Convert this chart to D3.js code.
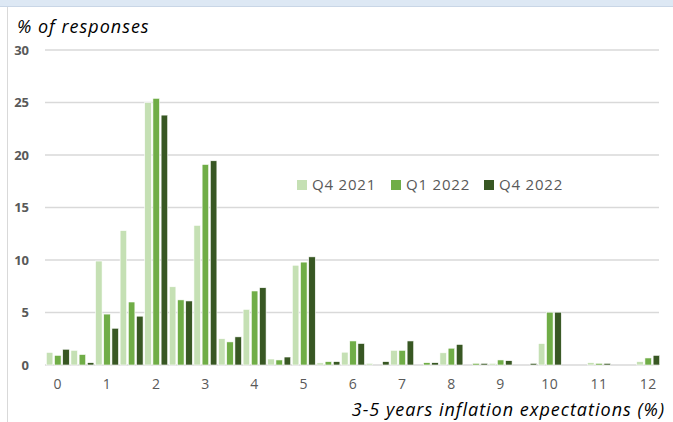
<!DOCTYPE html>
<html>
<head>
<meta charset="utf-8">
<script src="https://cdn.jsdelivr.net/npm/d3@7"></script>
<style>
  body { margin: 0; background: #fff; }
  svg { display: block; font-family: "Open Sans", sans-serif; }
</style>
</head>
<body>
<div id="chart"></div>
<script>
const width = 673;
const height = 422;

// inflation expectation bins (%), half-point steps
const bins = ["0","0.5","1","1.5","2","2.5","3","3.5","4","4.5","5","5.5","6","6.5","7","7.5","8","8.5","9","9.5","10","10.5","11","11.5","12"];
const seriesNames = ["Q4 2021", "Q1 2022", "Q4 2022"];
const q42021 = [1.2, 1.4, 9.9, 12.8, 25.0, 7.45, 13.3, 2.5, 5.3, 0.57, 9.5, 0.2, 1.22, 0.16, 1.4, 0, 1.16, 0, 0.16, 0, 2.04, 0, 0.22, 0, 0.32];
const q12022 = [0.92, 1.0, 4.85, 6.0, 25.4, 6.2, 19.1, 2.2, 7.05, 0.48, 9.8, 0.32, 2.29, 0, 1.4, 0.22, 1.6, 0.16, 0.48, 0, 5.03, 0, 0.16, 0, 0.67];
const q42022 = [1.5, 0.22, 3.5, 4.65, 23.8, 6.1, 19.45, 2.68, 7.36, 0.76, 10.3, 0.32, 2.05, 0.32, 2.29, 0.22, 1.96, 0.16, 0.41, 0.16, 5.03, 0, 0.16, 0, 0.92];
const yTicks = [0, 5, 10, 15, 20, 25, 30];
const xTickLabels = ["0","1","2","3","4","5","6","7","8","9","10","11","12"];
const colors = ["#c5e0b4", "#70ad47", "#385723"];

const series = [q42021, q12022, q42022];

const svg = d3.select("#chart").append("svg")
    .attr("width", width)
    .attr("height", height);

// frame: light blue strip on top, thin border on the left
svg.append("rect")
    .attr("x", 0).attr("y", 0)
    .attr("width", width).attr("height", 6)
    .attr("fill", "#dde8f4");
svg.append("line")
    .attr("x1", 0).attr("x2", width)
    .attr("y1", 6.5).attr("y2", 6.5)
    .attr("stroke", "#c9d6e6");
svg.append("line")
    .attr("x1", 7.5).attr("x2", 7.5)
    .attr("y1", 7).attr("y2", height)
    .attr("stroke", "#d9d9d9");

const x = d3.scaleBand()
    .domain(bins)
    .range([45.5, 660.5])
    .padding(0);

const xInner = d3.scaleBand()
    .domain(seriesNames)
    .range([0, x.bandwidth()])
    .paddingInner(0.2)
    .paddingOuter(0.1);

const y = d3.scaleLinear()
    .domain([0, 30])
    .range([365, 50]);

// gridlines + y labels
svg.append("g")
    .selectAll("line")
    .data(yTicks)
    .join("line")
    .attr("x1", 45).attr("x2", 659)
    .attr("y1", d => y(d)).attr("y2", d => y(d))
    .attr("stroke", "#d9d9d9")
    .attr("stroke-width", 1.5);

svg.append("g")
    .selectAll("text")
    .data(yTicks)
    .join("text")
    .attr("x", 29)
    .attr("y", d => y(d))
    .attr("dy", "0.36em")
    .attr("text-anchor", "end")
    .attr("font-size", 13)
    .attr("font-weight", "bold")
    .attr("fill", "#595959")
    .text(d => d);

// bars
const groups = svg.append("g")
    .selectAll("g")
    .data(bins)
    .join("g")
    .attr("transform", d => `translate(${x(d)},0)`);

groups.selectAll("rect")
    .data((d, i) => series.map((s, k) => ({ name: seriesNames[k], value: s[i], k: k })))
    .join("rect")
    .attr("x", d => xInner(d.name))
    .attr("width", xInner.bandwidth())
    .attr("y", d => y(d.value))
    .attr("height", d => y(0) - y(d.value))
    .attr("fill", d => colors[d.k])
    .attr("stroke", "#ffffff")
    .attr("stroke-width", 0.6);

// x tick labels at whole numbers
svg.append("g")
    .selectAll("text")
    .data(xTickLabels)
    .join("text")
    .attr("x", d => x(d) + x.bandwidth() / 2)
    .attr("y", 389)
    .attr("text-anchor", "middle")
    .attr("font-size", 14)
    .attr("letter-spacing", 0.5)
    .attr("fill", "#595959")
    .text(d => d);

// titles
svg.append("text")
    .attr("x", 17)
    .attr("y", 33)
    .attr("font-size", 18)
    .attr("letter-spacing", 1)
    .attr("font-style", "italic")
    .attr("fill", "#000")
    .text("% of responses");

svg.append("text")
    .attr("x", 665)
    .attr("y", 416)
    .attr("text-anchor", "end")
    .attr("font-size", 18)
    .attr("letter-spacing", 1)
    .attr("font-style", "italic")
    .attr("fill", "#000")
    .text("3-5 years inflation expectations (%)");

// legend
const legendX = [297, 391, 484];
const legend = svg.append("g")
    .selectAll("g")
    .data(seriesNames)
    .join("g")
    .attr("transform", (d, i) => `translate(${legendX[i]},180)`);

legend.append("rect")
    .attr("width", 10).attr("height", 10)
    .attr("fill", (d, i) => colors[i]);

legend.append("text")
    .attr("x", 15)
    .attr("y", 5)
    .attr("dy", "0.36em")
    .attr("font-size", 15)
    .attr("letter-spacing", 0.8)
    .attr("fill", "#595959")
    .text(d => d);
</script>
</body>
</html>
